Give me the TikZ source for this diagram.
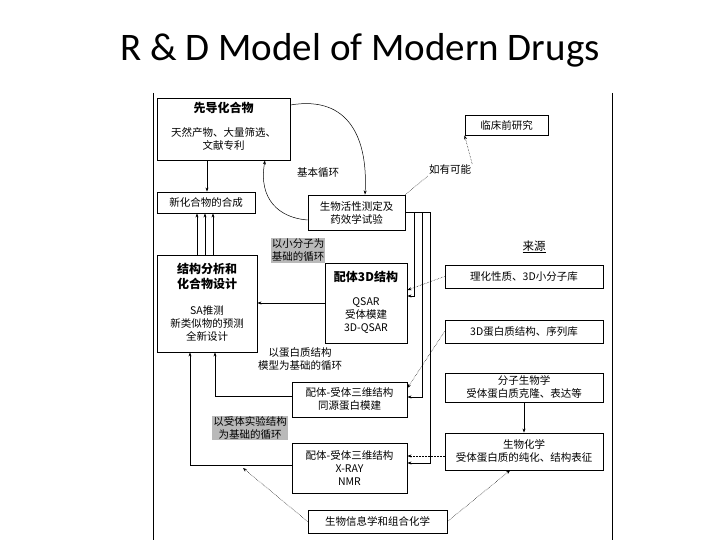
\documentclass[tikz,border=0pt]{standalone}
\usepackage{fontspec}
\setmainfont{Carlito}
\newfontfamily\cjk{Noto Sans CJK SC}
\usetikzlibrary{arrows.meta}
\begin{document}
\begin{tikzpicture}[x=1pt,y=-1pt,
  bx/.style={draw,line width=0.9pt,align=center,inner sep=1pt,font=\cjk\fontsize{10.5}{13}\selectfont},
  lb/.style={align=center,inner sep=1pt,font=\cjk\fontsize{10.5}{13}\selectfont},
  hd/.style={lb,font=\cjk\bfseries\fontsize{12}{14}\selectfont},
  gl/.style={lb,fill=gray!55},
  ar/.style={-{Stealth[length=4pt,width=3pt]},line width=0.5pt},
  dar/.style={ar,densely dotted}]
\useasboundingbox (0,0) rectangle (720,540);
\node (title) at (360,50) {\fontsize{39}{44}\selectfont R \& D Model of Modern Drugs};
\draw[line width=0.6pt] (153,93) -- (153,540);
\draw[line width=0.6pt] (612,93) -- (612,540);
% boxes
\node[bx,minimum width=133pt,minimum height=62pt] (lead) at (223.5,129) {};
\node[hd] (leadt) at (223.5,108) {先导化合物};
\node[lb] (leads) at (223.5,139) {天然产物、大量筛选、\\文献专利};
\node[bx,minimum width=98pt,minimum height=21pt] (syn) at (206,202.5) {新化合物的合成};
\node[bx,minimum width=97pt,minimum height=35pt] (bio) at (356.5,212.5) {生物活性测定及\\药效学试验};
\node[bx,minimum width=83pt,minimum height=20pt] (clin) at (506.5,125) {临床前研究};
\node[lb] (maybe) at (450,170) {如有可能};
\node[lb] (basic) at (318,173) {基本循环};
\node[gl] (small) at (298,250.5) {以小分子为\\基础的循环};
\node[bx,minimum width=100pt,minimum height=97pt] (design) at (207,303.5) {};
\node[hd,font=\cjk\bfseries\fontsize{12}{15}\selectfont] (designt) at (207,276) {结构分析和\\化合物设计};
\node[lb] (designs) at (207,324) {SA推测\\新类似物的预测\\全新设计};
\node[bx,minimum width=82pt,minimum height=80pt] (lig) at (366,303) {};
\node[hd] (ligt) at (366,277) {配体3D结构};
\node[lb] (ligs) at (366,316) {QSAR\\受体模建\\3D-QSAR};
\node[lb,font=\cjk\fontsize{11.5}{13}\selectfont] (src) at (534,247) {\underline{来源}};
\node[bx,minimum width=158pt,minimum height=23pt] (phys) at (524,276.5) {理化性质、3D小分子库};
\node[bx,minimum width=158pt,minimum height=23pt] (prot) at (524,331.5) {3D蛋白质结构、序列库};
\node[bx,minimum width=158pt,minimum height=29pt] (mol) at (524,387.5) {分子生物学\\受体蛋白质克隆、表达等};
\node[bx,minimum width=158pt,minimum height=37pt] (bchem) at (524,451.5) {生物化学\\受体蛋白质的纯化、结构表征};
\node[lb] (protc) at (300,359) {以蛋白质结构\\模型为基础的循环};
\node[bx,minimum width=115pt,minimum height=35pt] (homo) at (349.5,399.5) {配体-受体三维结构\\同源蛋白模建};
\node[gl] (expc) at (250,428) {以受体实验结构\\为基础的循环};
\node[bx,minimum width=115pt,minimum height=50pt] (xray) at (349.5,468) {配体-受体三维结构\\X-RAY\\NMR};
\node[bx,minimum width=139pt,minimum height=23pt] (binf) at (377.5,521.5) {生物信息学和组合化学};
\coordinate (xbh) at (243,468);
% connectors
\draw[ar] (lead.south -| 207,0) -- (syn.north -| 207,0);
\foreach \x in {197,205,213} \draw[ar] (design.north -| \x,0) -- (syn.south -| \x,0);
\draw[ar] (lead.east |- 0,105) .. controls (350,95) and (368,140) .. (bio.north -| 365,0);
\draw[ar] (bio.west |- 0,220) .. controls (280,218) and (258,200) .. (lead.south -| 265,0);
\draw[densely dotted,line width=0.5pt] (bio.north east) -- (maybe.south west);
\draw[ar,densely dotted] (maybe.north east) -- (clin.south west);
\draw[ar] (lig.west |- 0,303) -- (design.east |- 0,303);
\draw[line width=0.5pt] (bio.east |- 0,212) -- (430,212);
\draw[ar] (bio.east |- 0,212) -| (414,296) -- (lig.east |- 0,296);
\draw[ar] (bio.east |- 0,212) -| (422,397) -- (homo.east |- 0,397);
\draw[ar] (bio.east |- 0,212) -| (430,463) -- (xray.east |- 0,463);
\draw[dar] (phys.west) -- (lig.east |- 0,290);
\draw[dar] (prot.west) -- (homo.east |- 0,388);
\draw[dar] (bchem.west |- 0,456) -- (xray.east |- 0,456);
\draw[ar] (mol) -- (bchem);
\draw[ar] (homo.west |- 0,396) -| (design.south -| 215,0);
\draw[ar] (xray.west |- 0,465) -| (design.south -| 190,0);
\draw[dar] (binf.west) -- (xbh);
\draw[dar] (binf.east) -- (bchem.south -| 510,0);
\end{tikzpicture}
\end{document}
